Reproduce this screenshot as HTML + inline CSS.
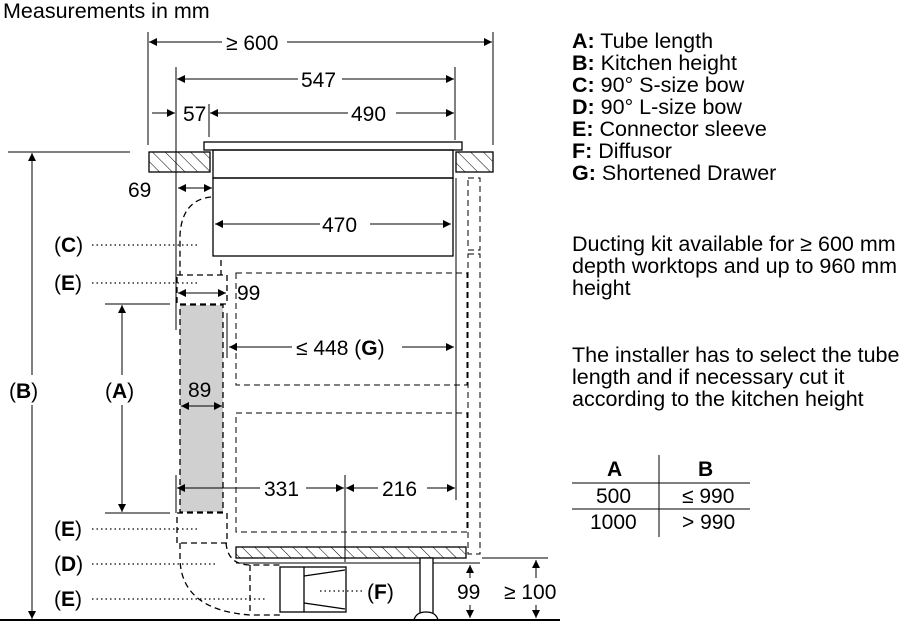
<!DOCTYPE html>
<html><head><meta charset="utf-8"><style>
html,body{margin:0;padding:0;background:#fff;}
svg{display:block;font-family:"Liberation Sans",Arial,sans-serif;}
</style></head><body>
<svg width="921" height="628" viewBox="0 0 921 628" xmlns="http://www.w3.org/2000/svg">
<defs>
<marker id="a" viewBox="0 0 10 10" refX="10" refY="5" markerWidth="11" markerHeight="8" markerUnits="userSpaceOnUse" orient="auto-start-reverse"><path d="M0,0 L10,5 L0,10 z" fill="#000"/></marker>
<pattern id="h" width="9" height="9" patternUnits="userSpaceOnUse" patternTransform="rotate(-45)"><line x1="0" y1="0" x2="0" y2="9" stroke="#000" stroke-width="1"/></pattern>
</defs>
<text x="3" y="18" font-size="21.5">Measurements in mm</text>
<g stroke="#000" stroke-width="1" fill="none">
<line x1="148" y1="32" x2="148" y2="145"/>
<line x1="493" y1="32" x2="493" y2="145"/>
<line x1="176" y1="67" x2="176" y2="330"/>
<line x1="455" y1="67" x2="455" y2="140"/>
<line x1="209" y1="104" x2="209" y2="137"/>
<line x1="149" y1="42" x2="222" y2="42" marker-start="url(#a)"/>
<line x1="287" y1="42" x2="492" y2="42" marker-end="url(#a)"/>
<line x1="177" y1="79" x2="298" y2="79" marker-start="url(#a)"/>
<line x1="342" y1="79" x2="454" y2="79" marker-end="url(#a)"/>
<line x1="152" y1="113" x2="175" y2="113" marker-end="url(#a)"/>
<line x1="210" y1="113" x2="348" y2="113" marker-start="url(#a)"/>
<line x1="396" y1="113" x2="454" y2="113" marker-end="url(#a)"/>
<rect x="149" y="152" width="61" height="20" fill="url(#h)" stroke="#000" stroke-width="1.3"/>
<rect x="456" y="152" width="37" height="20" fill="url(#h)" stroke="#000" stroke-width="1.3"/>
<rect x="204" y="142" width="258" height="8" fill="#fff" stroke-width="1.3"/>
<rect x="213" y="150" width="240" height="28" stroke-width="1.3"/>
<rect x="213" y="178" width="240" height="78" stroke-width="1.3"/>
<line x1="456" y1="178" x2="456" y2="500"/>
<line x1="178" y1="188" x2="212" y2="188" marker-start="url(#a)" marker-end="url(#a)"/>
<line x1="215" y1="224" x2="320" y2="224" marker-start="url(#a)"/>
<line x1="370" y1="224" x2="451" y2="224" marker-end="url(#a)"/>
</g>
<g stroke="#000" stroke-width="1.3" fill="none" stroke-dasharray="6,4">
<path d="M211,197 Q182,200 180,235 L180,275"/>
<line x1="221" y1="260" x2="221" y2="275"/>
<rect x="177" y="275" width="50" height="29"/>
<rect x="180" y="305" width="43" height="207" fill="#d0d0d0"/>
<rect x="177" y="513" width="50" height="30"/>
<rect x="236" y="273" width="231" height="112" stroke-width="1"/>
<rect x="236" y="413" width="231" height="119" stroke-width="1"/>
<rect x="468" y="178" width="12" height="72" stroke-width="1"/>
<rect x="468" y="254" width="12" height="300" stroke-width="1"/>
<path d="M180,543 L180,560 Q182,610 250,615 L280,615"/>
<path d="M226,543 Q228,565 250,565 L280,565"/>
<line x1="250" y1="565" x2="250" y2="615"/>
</g>
<g stroke="#000" stroke-width="1" fill="none">
<line x1="178" y1="293" x2="226" y2="293" marker-start="url(#a)" marker-end="url(#a)"/>
<line x1="181" y1="406" x2="222" y2="406" marker-start="url(#a)" marker-end="url(#a)"/>
<line x1="227" y1="313" x2="227" y2="358"/>
<line x1="229" y1="347" x2="292" y2="347" marker-start="url(#a)"/>
<line x1="402" y1="347" x2="454" y2="347" marker-end="url(#a)"/>
<line x1="176" y1="475" x2="176" y2="513"/>
<line x1="177" y1="488" x2="260" y2="488" marker-start="url(#a)"/>
<line x1="306" y1="488" x2="344" y2="488" marker-end="url(#a)"/>
<line x1="346" y1="488" x2="378" y2="488" marker-start="url(#a)"/>
<line x1="427" y1="488" x2="455" y2="488" marker-end="url(#a)"/>
<line x1="345" y1="475" x2="345" y2="562"/>
<rect x="236" y="547" width="230" height="11" fill="url(#h)" stroke-width="1.3"/>
<line x1="236" y1="563" x2="480" y2="563"/>
<line x1="482" y1="558" x2="548" y2="558"/>
<rect x="420" y="558" width="13" height="57" fill="#fff" stroke-width="1.3"/>
<path d="M414,620 Q416,612 426,612 Q436,612 438,620 Z" fill="#fff" stroke-width="1.3"/>
<rect x="280" y="567" width="66" height="45" stroke-width="1.3"/>
<line x1="304" y1="567" x2="304" y2="612" stroke-width="1.3"/>
<path d="M304,576 L345,570 M304,603 L345,609" stroke-width="1.3"/>
<line x1="0" y1="620" x2="560" y2="620" stroke-width="2"/>
<line x1="470" y1="565" x2="470" y2="578" marker-start="url(#a)"/>
<line x1="470" y1="605" x2="470" y2="618" marker-end="url(#a)"/>
<line x1="536" y1="560" x2="536" y2="578" marker-start="url(#a)"/>
<line x1="536" y1="605" x2="536" y2="618" marker-end="url(#a)"/>
<line x1="8" y1="152" x2="130" y2="152"/>
<line x1="32" y1="153" x2="32" y2="375" marker-start="url(#a)"/>
<line x1="32" y1="405" x2="32" y2="619" marker-end="url(#a)"/>
<line x1="105" y1="304" x2="170" y2="304"/>
<line x1="105" y1="513" x2="170" y2="513"/>
<line x1="122" y1="305" x2="122" y2="375" marker-start="url(#a)"/>
<line x1="122" y1="405" x2="122" y2="512" marker-end="url(#a)"/>
<g stroke-dasharray="1.5,3" stroke-width="1.3">
<line x1="92" y1="245" x2="198" y2="245"/>
<line x1="92" y1="283" x2="198" y2="283"/>
<line x1="92" y1="529" x2="198" y2="529"/>
<line x1="92" y1="564" x2="215" y2="564"/>
<line x1="92" y1="599" x2="265" y2="599"/>
<line x1="320" y1="591" x2="365" y2="591"/>
</g>
<line x1="659" y1="455" x2="659" y2="537"/>
<line x1="572" y1="483" x2="750" y2="483"/>
<line x1="572" y1="509" x2="750" y2="509"/>
</g>
<g font-size="21" fill="#000">
<text x="226" y="50">≥ 600</text>
<text x="301" y="87">547</text>
<text x="183" y="121">57</text>
<text x="351" y="121">490</text>
<text x="128" y="197">69</text>
<text x="322" y="232">470</text>
<text x="237" y="300">99</text>
<text x="296" y="355">≤ 448 (<tspan font-weight="bold">G</tspan>)</text>
<text x="188" y="397">89</text>
<text x="264" y="496">331</text>
<text x="382" y="496">216</text>
<text x="457" y="599">99</text>
<text x="504" y="599">≥ 100</text>
<text x="367" y="599">(<tspan font-weight="bold">F</tspan>)</text>
<text x="54" y="252">(<tspan font-weight="bold">C</tspan>)</text>
<text x="54" y="290">(<tspan font-weight="bold">E</tspan>)</text>
<text x="9" y="398">(<tspan font-weight="bold">B</tspan>)</text>
<text x="105" y="398">(<tspan font-weight="bold">A</tspan>)</text>
<text x="54" y="536">(<tspan font-weight="bold">E</tspan>)</text>
<text x="54" y="571">(<tspan font-weight="bold">D</tspan>)</text>
<text x="54" y="606">(<tspan font-weight="bold">E</tspan>)</text>
<g font-size="21.5">
<text x="572" y="48"><tspan font-weight="bold">A:</tspan> Tube length</text>
<text x="572" y="70"><tspan font-weight="bold">B:</tspan> Kitchen height</text>
<text x="572" y="92"><tspan font-weight="bold">C:</tspan> 90° S-size bow</text>
<text x="572" y="114"><tspan font-weight="bold">D:</tspan> 90° L-size bow</text>
<text x="572" y="136"><tspan font-weight="bold">E:</tspan> Connector sleeve</text>
<text x="572" y="158"><tspan font-weight="bold">F:</tspan> Diffusor</text>
<text x="572" y="180"><tspan font-weight="bold">G:</tspan> Shortened Drawer</text>
<text x="572" y="251">Ducting kit available for ≥ 600 mm</text>
<text x="572" y="273">depth worktops and up to 960 mm</text>
<text x="572" y="295">height</text>
<text x="572" y="362">The installer has to select the tube</text>
<text x="572" y="384">length and if necessary cut it</text>
<text x="572" y="406">according to the kitchen height</text>
</g>
<text x="607" y="476" font-weight="bold">A</text>
<text x="698" y="476" font-weight="bold">B</text>
<text x="596" y="503">500</text>
<text x="682" y="503">≤ 990</text>
<text x="590" y="529">1000</text>
<text x="682" y="529">&gt; 990</text>
</g>
</svg>
</body></html>
